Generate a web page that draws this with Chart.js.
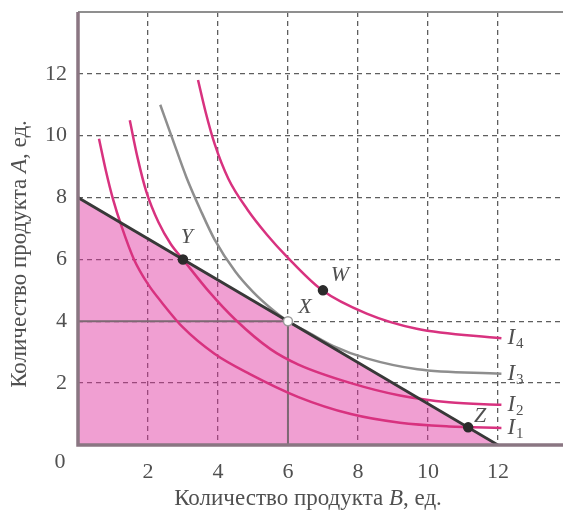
<!DOCTYPE html>
<html>
<head>
<meta charset="utf-8">
<script src="https://cdn.jsdelivr.net/npm/chart.js@4.4.1/dist/chart.umd.min.js"></script>
<style>
  html, body { margin: 0; padding: 0; background: #fff; overflow: hidden; }
  #wrap { width: 563px; height: 513px; }
</style>
</head>
<body>
<div id="wrap"><canvas id="chart"></canvas></div>
<script>
// budget line: A = 8 at B = 0, B = 12 at A = 0
const budget = [{x: 0, y: 8}, {x: 12, y: 0}]

// indifference curves
const curveNames = ['1', '2', '3', '4']
const curveI1 = [
  {x: 0.6, y: 9.9}, {x: 0.8, y: 8.85}, {x: 1.0, y: 7.95}, {x: 1.25, y: 7.05}, {x: 1.6, y: 6.0},
  {x: 2.0, y: 5.2}, {x: 2.4, y: 4.6}, {x: 3.0, y: 3.8}, {x: 3.9, y: 2.95}, {x: 4.9, y: 2.3},
  {x: 6.3, y: 1.55}, {x: 7.8, y: 1.0}, {x: 9.2, y: 0.72}, {x: 10.6, y: 0.6}, {x: 12.1, y: 0.55}
]
const curveI2 = [
  {x: 1.48, y: 10.5}, {x: 1.7, y: 9.3}, {x: 1.95, y: 8.2}, {x: 2.3, y: 7.2}, {x: 2.65, y: 6.5},
  {x: 3.0, y: 6.0}, {x: 3.75, y: 4.95}, {x: 4.5, y: 4.05}, {x: 5.5, y: 3.1}, {x: 6.3, y: 2.6},
  {x: 7.8, y: 2.0}, {x: 9.2, y: 1.6}, {x: 10.6, y: 1.38}, {x: 12.1, y: 1.3}
]
const curveI3 = [
  {x: 2.35, y: 11.0}, {x: 2.7, y: 9.9}, {x: 3.1, y: 8.65}, {x: 3.5, y: 7.6}, {x: 3.9, y: 6.65},
  {x: 4.5, y: 5.6}, {x: 5.0, y: 4.95}, {x: 5.5, y: 4.43}, {x: 6.0, y: 4.0}, {x: 6.6, y: 3.63},
  {x: 7.3, y: 3.2}, {x: 8.25, y: 2.8}, {x: 9.7, y: 2.45}, {x: 12.1, y: 2.3}
]
const curveI4 = [
  {x: 3.43, y: 11.8}, {x: 3.65, y: 10.75}, {x: 3.9, y: 9.75}, {x: 4.3, y: 8.6}, {x: 4.85, y: 7.6},
  {x: 5.4, y: 6.8}, {x: 5.96, y: 6.1}, {x: 6.96, y: 5.02}, {x: 8.25, y: 4.25}, {x: 9.68, y: 3.76},
  {x: 12.1, y: 3.45}
]

// marked bundles
const pointNames = ['Y', 'X', 'W', 'Z']
const pointValues = [{x: 3, y: 6}, {x: 6, y: 4}, {x: 7, y: 5}, {x: 11.15, y: 0.57}]

// guide lines from X to the axes
const guideA = [{x: 0, y: 4}, {x: 6, y: 4}]
const guideB = [{x: 6, y: 4}, {x: 6, y: 0}]

const xTicks = [0, 2, 4, 6, 8, 10, 12]
const yTicks = [0, 2, 4, 6, 8, 10, 12]

const serif = '"Liberation Serif", "DejaVu Serif", serif'
const pink = '#d8327f'
const textColor = '#505050'

function curve(data, color) {
  return {data: data, showLine: true, borderColor: color, borderWidth: 2.5, pointRadius: 0,
    cubicInterpolationMode: 'monotone', fill: false, order: 2}
}

// draws a string where some pieces are italic
function drawParts(ctx, parts, x, y, size) {
  let total = 0
  parts.forEach(p => {
    ctx.font = (p[1] ? 'italic ' : '') + size + 'px ' + serif
    total += ctx.measureText(p[0]).width
  })
  let cx = x - total / 2
  parts.forEach(p => {
    ctx.font = (p[1] ? 'italic ' : '') + size + 'px ' + serif
    ctx.fillText(p[0], cx, y)
    cx += ctx.measureText(p[0]).width
  })
}

const decorations = {
  id: 'decorations',
  afterDatasetsDraw(chart) {
    const ctx = chart.ctx
    const a = chart.chartArea
    const xs = chart.scales.x, ys = chart.scales.y
    ctx.save()
    // frame
    ctx.strokeStyle = '#8f8f8f'
    ctx.lineWidth = 2
    ctx.beginPath()
    ctx.moveTo(a.left, a.top)
    ctx.lineTo(chart.width, a.top)
    ctx.stroke()
    ctx.strokeStyle = '#8a7682'
    ctx.lineWidth = 3.5
    ctx.beginPath()
    ctx.moveTo(a.left, a.top)
    ctx.lineTo(a.left, a.bottom)
    ctx.lineTo(chart.width, a.bottom)
    ctx.stroke()

    ctx.fillStyle = textColor
    ctx.textBaseline = 'middle'
    // origin label
    ctx.font = '22px ' + serif
    ctx.textAlign = 'center'
    ctx.fillText('0', a.left - 18, a.bottom + 17)

    // point labels
    const offsets = [[4, -22], [17, -14], [17, -15], [12, -11]]
    ctx.font = 'italic 22px ' + serif
    pointNames.forEach((n, i) => {
      const px = xs.getPixelForValue(pointValues[i].x)
      const py = ys.getPixelForValue(pointValues[i].y)
      ctx.fillText(n, px + offsets[i][0], py + offsets[i][1])
    })

    // curve labels at the right ends
    const curves = [curveI1, curveI2, curveI3, curveI4]
    ctx.textAlign = 'left'
    curves.forEach((c, i) => {
      const end = c[c.length - 1]
      const px = xs.getPixelForValue(end.x) + 6
      const py = ys.getPixelForValue(end.y)
      ctx.font = 'italic 23px ' + serif
      ctx.fillText('I', px, py)
      const w = ctx.measureText('I').width
      ctx.font = '15px ' + serif
      ctx.fillText(curveNames[i], px + w + 1, py + 6)
    })

    // axis titles
    ctx.textAlign = 'left'
    drawParts(ctx, [['Количество продукта ', false], ['B', true], [', ед.', false]], 308, 499, 23)
    ctx.translate(20, 254)
    ctx.rotate(-Math.PI / 2)
    drawParts(ctx, [['Количество продукта ', false], ['А', true], [', ед.', false]], 0, 0, 23)
    ctx.restore()
  }
}

new Chart(document.getElementById('chart'), {
  type: 'scatter',
  data: {
    datasets: [
      {data: pointValues, showLine: false, pointRadius: 4.5,
        pointBackgroundColor: ['#2b2b2b', '#ffffff', '#2b2b2b', '#2b2b2b'],
        pointBorderColor: ['#2b2b2b', '#9a9a9a', '#2b2b2b', '#2b2b2b'],
        pointBorderWidth: 1.5, order: 0},
      {data: budget, showLine: true, borderColor: '#383838', borderWidth: 2.8, pointRadius: 0,
        fill: 'origin', backgroundColor: 'rgba(224, 50, 160, 0.47)', order: 1},
      curve(curveI1, pink),
      curve(curveI2, pink),
      curve(curveI3, '#8e8e8e'),
      curve(curveI4, pink),
      {data: guideA, showLine: true, borderColor: '#7d6873', borderWidth: 2, pointRadius: 0, order: 3},
      {data: guideB, showLine: true, borderColor: '#7d6873', borderWidth: 2, pointRadius: 0, order: 3}
    ]
  },
  options: {
    responsive: true,
    maintainAspectRatio: false,
    animation: false,
    devicePixelRatio: 1,
    layout: {autoPadding: false, padding: {top: 12, left: 0, right: 0, bottom: 0}},
    plugins: {
      legend: {display: false},
      tooltip: {enabled: false},
      filler: {drawTime: 'beforeDatasetsDraw'}
    },
    scales: {
      x: {
        type: 'linear', min: 0, max: 13.86,
        afterBuildTicks: s => { s.ticks = xTicks.map(v => ({value: v})) },
        afterFit: s => { s.height = 68; s.paddingLeft = 0; s.paddingRight = 0 },
        ticks: {
          callback: v => v === 0 ? '' : v,
          font: {family: serif, size: 22}, color: textColor, padding: 14, maxRotation: 0, autoSkip: false
        },
        grid: {color: c => c.tick && c.tick.value === 0 ? 'rgba(0,0,0,0)' : '#5e5e5e', lineWidth: 1.3, drawTicks: false},
        border: {display: false, dash: [5, 4]}
      },
      y: {
        type: 'linear', min: 0, max: 14,
        afterBuildTicks: s => { s.ticks = yTicks.map(v => ({value: v})) },
        afterFit: s => { s.width = 78; s.paddingTop = 0; s.paddingBottom = 0 },
        ticks: {
          callback: v => v === 0 ? '' : v,
          font: {family: serif, size: 22}, color: textColor, padding: 11, autoSkip: false
        },
        grid: {color: c => c.tick && c.tick.value === 0 ? 'rgba(0,0,0,0)' : '#5e5e5e', lineWidth: 1.3, drawTicks: false},
        border: {display: false, dash: [5, 4]}
      }
    }
  },
  plugins: [decorations]
})
</script>
</body>
</html>
